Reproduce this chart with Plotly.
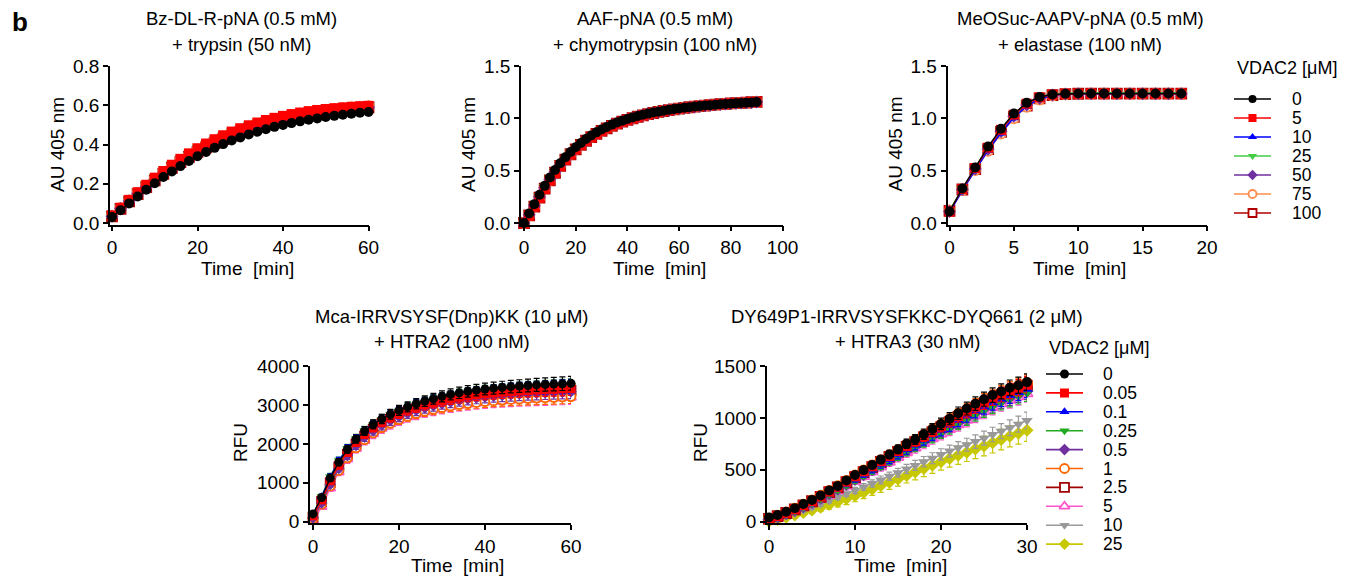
import plotly.graph_objects as go

FIG_W, FIG_H = 1353, 577
FONT = "Liberation Sans, Arial, Helvetica, sans-serif"

# ---------------- data ----------------
# VDAC2 concentrations [µM]
conc_a = ["0", "5", "10", "25", "50", "75", "100"]
conc_b = ["0", "0.05", "0.1", "0.25", "0.5", "1", "2.5", "5", "10", "25"]

# Bz-DL-R-pNA + trypsin (AU 405 nm)
t_tryp = [0, 2, 4, 6, 8, 10, 12, 14, 16, 18, 20, 22, 24, 26, 28, 30, 32, 34, 36, 38, 40,
          42, 44, 46, 48, 50, 52, 54, 56, 58, 60]
tryp_0 = [0.030, 0.065, 0.100, 0.135, 0.170, 0.203, 0.234, 0.263, 0.290, 0.316, 0.340, 0.362, 0.383, 0.402, 0.420,
          0.436, 0.451, 0.465, 0.478, 0.490, 0.500, 0.509, 0.518, 0.526, 0.533, 0.540, 0.546, 0.552, 0.557, 0.562, 0.566]
tryp_5 = [0.038, 0.078, 0.118, 0.157, 0.195, 0.231, 0.265, 0.297, 0.327, 0.355, 0.381, 0.405, 0.427, 0.447, 0.466,
          0.483, 0.498, 0.512, 0.525, 0.536, 0.546, 0.555, 0.563, 0.570, 0.576, 0.581, 0.585, 0.589, 0.592, 0.595, 0.597]
tryp_10 = [0.036, 0.075, 0.113, 0.151, 0.188, 0.223, 0.256, 0.288, 0.317, 0.345, 0.370, 0.394, 0.416, 0.436, 0.454,
           0.471, 0.487, 0.501, 0.514, 0.526, 0.536, 0.545, 0.554, 0.561, 0.568, 0.574, 0.579, 0.583, 0.587, 0.590, 0.593]
tryp_25 = [0.040, 0.081, 0.122, 0.162, 0.200, 0.236, 0.270, 0.302, 0.332, 0.360, 0.386, 0.410, 0.432, 0.452, 0.470,
           0.487, 0.502, 0.515, 0.527, 0.538, 0.548, 0.557, 0.565, 0.572, 0.578, 0.583, 0.587, 0.591, 0.594, 0.597, 0.599]
tryp_50 = [0.035, 0.074, 0.112, 0.149, 0.185, 0.220, 0.253, 0.284, 0.313, 0.340, 0.366, 0.389, 0.411, 0.431, 0.449,
           0.466, 0.482, 0.496, 0.509, 0.521, 0.531, 0.541, 0.550, 0.557, 0.564, 0.570, 0.575, 0.580, 0.584, 0.587, 0.590]
tryp_75 = [0.037, 0.076, 0.115, 0.153, 0.190, 0.226, 0.259, 0.291, 0.321, 0.348, 0.374, 0.398, 0.420, 0.440, 0.458,
           0.475, 0.491, 0.505, 0.518, 0.529, 0.540, 0.549, 0.557, 0.565, 0.571, 0.577, 0.582, 0.586, 0.590, 0.593, 0.595]
tryp_100 = [0.034, 0.072, 0.110, 0.147, 0.183, 0.217, 0.250, 0.281, 0.310, 0.337, 0.362, 0.385, 0.407, 0.427, 0.445,
            0.462, 0.478, 0.492, 0.505, 0.517, 0.528, 0.538, 0.547, 0.555, 0.562, 0.568, 0.573, 0.578, 0.582, 0.586, 0.589]
err_tryp = [0.004, 0.005, 0.006, 0.006, 0.007, 0.007, 0.008, 0.008, 0.009, 0.009, 0.010, 0.010, 0.010, 0.011, 0.011,
            0.011, 0.012, 0.012, 0.012, 0.012, 0.013, 0.013, 0.013, 0.013, 0.014, 0.014, 0.014, 0.014, 0.014, 0.015, 0.015]

# AAF-pNA + chymotrypsin (AU 405 nm)
t_chymo = [0, 2, 4, 6, 8, 10, 12, 14, 16, 18, 20, 22, 24, 26, 28, 30, 32, 34, 36, 38, 40, 42, 44,
           46, 48, 50, 52, 54, 56, 58, 60, 62, 64, 66, 68, 70, 72, 74, 76, 78, 80, 82, 84, 86, 88, 90]
chymo_0 = [0.00, 0.09, 0.18, 0.27, 0.355, 0.435, 0.506, 0.571, 0.628, 0.679, 0.724, 0.765, 0.802, 0.836, 0.866,
           0.893, 0.918, 0.94, 0.96, 0.978, 0.994, 1.009, 1.022, 1.034, 1.045, 1.055, 1.064, 1.073, 1.081, 1.088,
           1.095, 1.101, 1.107, 1.112, 1.117, 1.122, 1.126, 1.13, 1.134, 1.137, 1.14, 1.143, 1.146, 1.149, 1.152, 1.155]
chymo_5 = [0.00, 0.07, 0.155, 0.24, 0.325, 0.405, 0.477, 0.543, 0.602, 0.655, 0.702, 0.745, 0.784, 0.819, 0.851,
           0.879, 0.905, 0.928, 0.949, 0.968, 0.985, 1.001, 1.015, 1.028, 1.04, 1.051, 1.061, 1.07, 1.079, 1.087,
           1.094, 1.101, 1.107, 1.113, 1.118, 1.123, 1.128, 1.132, 1.136, 1.14, 1.143, 1.146, 1.149, 1.152, 1.155, 1.158]
chymo_10 = [0.00, 0.08, 0.168, 0.255, 0.34, 0.42, 0.492, 0.557, 0.615, 0.667, 0.713, 0.755, 0.793, 0.828, 0.859,
            0.886, 0.911, 0.934, 0.954, 0.973, 0.989, 1.005, 1.018, 1.031, 1.042, 1.053, 1.062, 1.071, 1.08, 1.087,
            1.094, 1.101, 1.107, 1.112, 1.117, 1.122, 1.127, 1.131, 1.135, 1.138, 1.141, 1.144, 1.147, 1.15, 1.153, 1.156]
chymo_25 = [0.00, 0.085, 0.175, 0.263, 0.348, 0.428, 0.5, 0.565, 0.623, 0.675, 0.721, 0.763, 0.8, 0.834, 0.865,
            0.892, 0.917, 0.939, 0.96, 0.978, 0.995, 1.01, 1.024, 1.036, 1.048, 1.058, 1.068, 1.077, 1.085, 1.093,
            1.1, 1.107, 1.113, 1.119, 1.124, 1.129, 1.134, 1.138, 1.142, 1.146, 1.149, 1.153, 1.156, 1.159, 1.162, 1.165]
chymo_50 = [0.00, 0.078, 0.165, 0.252, 0.337, 0.417, 0.489, 0.554, 0.612, 0.664, 0.71, 0.752, 0.79, 0.825, 0.856,
            0.884, 0.909, 0.931, 0.952, 0.97, 0.987, 1.003, 1.017, 1.029, 1.041, 1.051, 1.061, 1.07, 1.078, 1.086,
            1.093, 1.1, 1.106, 1.111, 1.116, 1.121, 1.126, 1.13, 1.134, 1.137, 1.141, 1.144, 1.147, 1.15, 1.152, 1.155]
chymo_75 = [0.00, 0.075, 0.16, 0.246, 0.331, 0.411, 0.483, 0.549, 0.607, 0.659, 0.706, 0.748, 0.787, 0.822, 0.853,
            0.881, 0.906, 0.929, 0.95, 0.969, 0.986, 1.002, 1.016, 1.029, 1.041, 1.052, 1.062, 1.071, 1.079, 1.087,
            1.094, 1.101, 1.107, 1.113, 1.118, 1.123, 1.127, 1.131, 1.135, 1.139, 1.142, 1.145, 1.148, 1.151, 1.154, 1.157]
chymo_100 = [0.00, 0.072, 0.157, 0.243, 0.328, 0.408, 0.48, 0.546, 0.605, 0.657, 0.704, 0.747, 0.786, 0.821, 0.852,
             0.88, 0.905, 0.928, 0.949, 0.968, 0.985, 1.001, 1.015, 1.028, 1.04, 1.051, 1.061, 1.07, 1.078, 1.086,
             1.093, 1.1, 1.106, 1.112, 1.117, 1.122, 1.127, 1.131, 1.135, 1.139, 1.142, 1.145, 1.148, 1.151, 1.154, 1.157]

# MeOSuc-AAPV-pNA + elastase (AU 405 nm)
t_elast = [0, 1, 2, 3, 4, 5, 6, 7, 8, 9, 10, 11, 12, 13, 14, 15, 16, 17, 18]
elast_0 = [0.11, 0.33, 0.53, 0.73, 0.90, 1.045, 1.148, 1.205, 1.228, 1.235, 1.237, 1.237, 1.237, 1.237, 1.237,
           1.237, 1.237, 1.237, 1.237]
elast_5 = [0.11, 0.325, 0.525, 0.72, 0.89, 1.035, 1.14, 1.2, 1.226, 1.234, 1.236, 1.236, 1.236, 1.236, 1.236,
           1.236, 1.236, 1.236, 1.236]
elast_10 = [0.10, 0.31, 0.505, 0.695, 0.86, 1.005, 1.115, 1.185, 1.22, 1.232, 1.235, 1.236, 1.236, 1.236, 1.236,
            1.236, 1.236, 1.236, 1.236]
elast_25 = [0.12, 0.33, 0.53, 0.725, 0.895, 1.04, 1.145, 1.205, 1.232, 1.242, 1.245, 1.246, 1.246, 1.246, 1.246,
            1.246, 1.246, 1.246, 1.246]
elast_50 = [0.11, 0.32, 0.515, 0.705, 0.875, 1.02, 1.128, 1.193, 1.224, 1.233, 1.236, 1.236, 1.236, 1.236, 1.236,
            1.236, 1.236, 1.236, 1.236]
elast_75 = [0.12, 0.315, 0.505, 0.69, 0.855, 1.0, 1.11, 1.18, 1.218, 1.23, 1.234, 1.235, 1.235, 1.235, 1.235,
            1.235, 1.235, 1.235, 1.235]
elast_100 = [0.115, 0.32, 0.515, 0.705, 0.87, 1.015, 1.122, 1.19, 1.222, 1.232, 1.235, 1.236, 1.236, 1.236, 1.236,
             1.236, 1.236, 1.236, 1.236]

# Mca-IRRVSYSF(Dnp)KK + HTRA2 (RFU)
t_htra2 = [0, 2, 4, 6, 8, 10, 12, 14, 16, 18, 20, 22, 24, 26, 28, 30, 32, 34, 36, 38, 40,
           42, 44, 46, 48, 50, 52, 54, 56, 58, 60]
htra2_0 = [200, 620, 1120, 1530, 1860, 2120, 2330, 2500, 2640, 2760, 2860, 2950, 3030, 3100, 3160,
           3220, 3270, 3310, 3350, 3380, 3410, 3430, 3450, 3470, 3485, 3500, 3515, 3525, 3535, 3545, 3555]
htra2_005 = [150, 560, 1050, 1450, 1780, 2040, 2250, 2420, 2560, 2680, 2780, 2865, 2940, 3005, 3060,
             3110, 3155, 3195, 3230, 3260, 3285, 3305, 3325, 3340, 3355, 3370, 3380, 3390, 3400, 3410, 3420]
htra2_01 = [180, 640, 1150, 1560, 1880, 2130, 2330, 2490, 2625, 2740, 2835, 2920, 2995, 3060, 3115,
            3165, 3210, 3250, 3285, 3315, 3340, 3360, 3380, 3400, 3415, 3430, 3440, 3450, 3460, 3470, 3480]
htra2_025 = [190, 650, 1160, 1570, 1890, 2140, 2340, 2500, 2635, 2750, 2845, 2930, 3005, 3070, 3125,
             3175, 3220, 3260, 3295, 3325, 3350, 3370, 3390, 3410, 3425, 3440, 3450, 3460, 3470, 3480, 3490]
htra2_05 = [100, 480, 960, 1370, 1700, 1960, 2170, 2340, 2480, 2600, 2700, 2785, 2860, 2925, 2980,
            3030, 3075, 3115, 3150, 3180, 3205, 3225, 3245, 3260, 3275, 3290, 3300, 3310, 3320, 3330, 3340]
htra2_1 = [80, 450, 920, 1320, 1640, 1900, 2110, 2280, 2420, 2535, 2630, 2710, 2780, 2840, 2890,
           2935, 2975, 3010, 3040, 3065, 3090, 3110, 3125, 3140, 3155, 3165, 3175, 3185, 3195, 3205, 3215]
htra2_25 = [120, 520, 1000, 1400, 1730, 1990, 2200, 2370, 2510, 2630, 2730, 2815, 2890, 2955, 3010,
            3060, 3105, 3145, 3180, 3210, 3235, 3255, 3275, 3290, 3305, 3320, 3330, 3340, 3350, 3360, 3370]
htra2_5 = [20, 380, 860, 1270, 1600, 1870, 2080, 2250, 2390, 2505, 2600, 2685, 2755, 2815, 2865,
           2910, 2950, 2985, 3015, 3040, 3065, 3085, 3100, 3115, 3130, 3140, 3150, 3160, 3170, 3180, 3190]
htra2_10 = [110, 500, 980, 1380, 1710, 1970, 2180, 2350, 2490, 2610, 2710, 2795, 2870, 2935, 2990,
            3040, 3085, 3125, 3160, 3190, 3215, 3235, 3255, 3270, 3285, 3300, 3310, 3320, 3330, 3340, 3350]
htra2_250 = [90, 470, 940, 1340, 1670, 1930, 2140, 2310, 2450, 2565, 2665, 2750, 2825, 2890, 2945,
             2990, 3030, 3065, 3095, 3120, 3145, 3165, 3185, 3200, 3215, 3225, 3235, 3245, 3255, 3265, 3275]
err_htra2 = [40, 60, 80, 90, 100, 105, 110, 115, 120, 125, 128, 130, 133, 135, 138,
             140, 142, 145, 148, 150, 152, 155, 158, 160, 162, 165, 168, 170, 172, 175, 178]

# DY649P1-IRRVSYSFKKC-DYQ661 + HTRA3 (RFU)
t_htra3 = [0, 1, 2, 3, 4, 5, 6, 7, 8, 9, 10, 11, 12, 13, 14, 15, 16, 17, 18, 19, 20,
           21, 22, 23, 24, 25, 26, 27, 28, 29, 30]
htra3_0 = [40, 65, 96, 130, 170, 210, 252, 300, 345, 398, 450, 497, 547, 598, 648,
           697, 750, 792, 843, 893, 942, 992, 1045, 1090, 1137, 1180, 1220, 1255, 1290, 1315, 1345]
htra3_005 = [30, 55, 85, 120, 160, 200, 243, 290, 336, 386, 437, 485, 533, 583, 632,
             680, 730, 775, 823, 872, 920, 968, 1018, 1063, 1108, 1150, 1190, 1225, 1260, 1290, 1320]
htra3_01 = [25, 48, 78, 110, 148, 188, 230, 273, 318, 365, 412, 458, 505, 553, 600,
            648, 695, 740, 787, 835, 882, 928, 975, 1020, 1065, 1105, 1145, 1180, 1215, 1245, 1275]
htra3_025 = [20, 45, 74, 106, 143, 182, 223, 266, 310, 356, 402, 448, 494, 540, 586,
             632, 678, 722, 767, 812, 857, 902, 947, 990, 1033, 1073, 1112, 1148, 1182, 1212, 1240]
htra3_05 = [22, 46, 76, 108, 145, 185, 226, 269, 314, 360, 407, 453, 500, 546, 592,
            638, 685, 730, 776, 822, 868, 913, 958, 1002, 1046, 1087, 1126, 1162, 1196, 1228, 1258]
htra3_1 = [30, 58, 90, 125, 165, 206, 250, 297, 343, 393, 445, 493, 542, 592, 642,
           690, 740, 786, 834, 883, 932, 980, 1030, 1076, 1122, 1165, 1206, 1242, 1276, 1305, 1335]
htra3_25 = [28, 54, 84, 118, 157, 197, 240, 285, 331, 380, 430, 478, 526, 575, 624,
            672, 721, 766, 813, 861, 909, 956, 1004, 1049, 1094, 1136, 1176, 1212, 1246, 1277, 1306]
htra3_5 = [15, 38, 66, 98, 134, 172, 212, 254, 298, 343, 389, 434, 480, 526, 572,
           618, 664, 708, 753, 798, 843, 888, 933, 976, 1019, 1060, 1100, 1136, 1170, 1202, 1232]
htra3_10 = [15, 35, 58, 84, 112, 142, 172, 205, 238, 270, 300, 335, 368, 402, 438,
            472, 508, 542, 578, 612, 648, 680, 712, 742, 772, 805, 840, 872, 905, 940, 975]
htra3_250 = [5, 22, 42, 64, 88, 113, 138, 165, 192, 220, 250, 282, 315, 348, 380,
             412, 445, 478, 512, 545, 578, 610, 640, 670, 700, 730, 760, 792, 822, 852, 882]
err_htra3 = [10, 12, 14, 16, 18, 20, 22, 24, 26, 28, 30, 32, 35, 38, 40,
             42, 45, 48, 50, 52, 55, 58, 60, 62, 65, 68, 70, 72, 75, 78, 80]
err_htra3_250 = [10, 15, 20, 25, 30, 35, 40, 45, 50, 55, 58, 60, 62, 65, 68,
                 70, 72, 75, 78, 80, 82, 85, 88, 90, 92, 95, 98, 100, 102, 105, 108]

# ---------------- styles ----------------
# (colour, symbol, filled) per concentration
style_a = [("#000000", "circle", True), ("#ff0000", "square", True), ("#0000ff", "triangle-up", True),
           ("#44cc44", "triangle-down", True), ("#7030a0", "diamond", True), ("#ff8c4a", "circle", False),
           ("#b00000", "square", False)]
style_b = [("#000000", "circle", True), ("#ff0000", "square", True), ("#0000ff", "triangle-up", True),
           ("#22aa22", "triangle-down", True), ("#7030a0", "diamond", True), ("#ff6600", "circle", False),
           ("#a00000", "square", False), ("#ff55cc", "triangle-up", False), ("#999999", "triangle-down", True),
           ("#c8c800", "diamond", True)]


def fx(p):
    return p / FIG_W


def fy(p):
    return 1 - p / FIG_H


panels = [
    dict(t=t_tryp, ys=[tryp_0, tryp_5, tryp_10, tryp_25, tryp_50, tryp_75, tryp_100],
         errs=[err_tryp] * 7, style=style_a, ms=10,
         xdom=(110, 368.5), ydom=(66, 224.5), xr=[-0.47, 60], yr=[-0.0076, 0.8],
         xt=[0, 20, 40, 60], yt=[0, 0.2, 0.4, 0.6, 0.8], yfmt=".1f"),
    dict(t=t_chymo, ys=[chymo_0, chymo_5, chymo_10, chymo_25, chymo_50, chymo_75, chymo_100],
         errs=[None] * 7, style=style_a, ms=10,
         xdom=(521, 782.5), ydom=(66, 224.5), xr=[-1.16, 100], yr=[-0.0143, 1.5],
         xt=[0, 20, 40, 60, 80, 100], yt=[0, 0.5, 1.0, 1.5], yfmt=".1f"),
    dict(t=t_elast, ys=[elast_0, elast_5, elast_10, elast_25, elast_50, elast_75, elast_100],
         errs=[None] * 7, style=style_a, ms=10,
         xdom=(947.5, 1207), ydom=(66, 224.5), xr=[-0.155, 20], yr=[-0.0143, 1.5],
         xt=[0, 5, 10, 15, 20], yt=[0, 0.5, 1.0, 1.5], yfmt=".1f"),
    dict(t=t_htra2, ys=[htra2_0, htra2_005, htra2_01, htra2_025, htra2_05, htra2_1, htra2_25, htra2_5,
                        htra2_10, htra2_250],
         errs=[err_htra2] * 10, style=style_b, ms=9,
         xdom=(310, 571), ydom=(366, 523.2), xr=[-0.7, 60], yr=[-38.5, 4000],
         xt=[0, 20, 40, 60], yt=[0, 1000, 2000, 3000, 4000], yfmt="d"),
    dict(t=t_htra3, ys=[htra3_0, htra3_005, htra3_01, htra3_025, htra3_05, htra3_1, htra3_25, htra3_5,
                        htra3_10, htra3_250],
         errs=[err_htra3] * 9 + [err_htra3_250], style=style_b, ms=10,
         xdom=(767, 1027), ydom=(366, 523.2), xr=[-0.233, 30], yr=[-14.5, 1500],
         xt=[0, 10, 20, 30], yt=[0, 500, 1000, 1500], yfmt="d"),
]

fig = go.Figure()
layout_axes = {}

axis_common = dict(showline=True, linecolor="black", linewidth=1.8, ticks="outside", ticklen=5,
                   tickwidth=1.8, tickcolor="black", showgrid=False, zeroline=False, automargin=False,
                   tickfont=dict(family=FONT, size=19, color="black"), fixedrange=True)

for k, p in enumerate(panels, start=1):
    sfx = "" if k == 1 else str(k)
    xa, ya = "x" + sfx, "y" + sfx
    layout_axes["xaxis" + sfx] = dict(axis_common, domain=[fx(p["xdom"][0]), fx(p["xdom"][1])],
                                      range=p["xr"], tickvals=p["xt"], anchor=ya)
    layout_axes["yaxis" + sfx] = dict(axis_common, domain=[fy(p["ydom"][1]), fy(p["ydom"][0])],
                                      range=p["yr"], tickvals=p["yt"], tickformat=p["yfmt"], anchor=xa)
    # lowest concentration drawn last so it sits on top
    for i in reversed(range(len(p["ys"]))):
        col, sym, filled = p["style"][i]
        err = p["errs"][i]
        fig.add_trace(go.Scatter(
            x=p["t"], y=p["ys"][i], xaxis=xa, yaxis=ya, mode="lines+markers",
            line=dict(color=col, width=1.4),
            marker=dict(symbol=sym, size=p["ms"], color=col if filled else "white",
                        line=dict(color=col, width=0 if filled else 1.8)),
            error_y=dict(type="data", array=err, color=col, thickness=1.2, width=3,
                         visible=err is not None),
            cliponaxis=False, showlegend=False, hoverinfo="skip"))

# legend key panels drawn on their own hidden axes
legends = [
    dict(labels=conc_a, style=style_a, n=6, ms=8, xdom=(1234, 1352), xr=[0, 118 / 37],
         ydom=(99 - 2.5 * 19, 99 + 6.5 * 19), yr=[6.5, -2.5], text_x=1.52, title_y=-1.63),
    dict(labels=conc_b, style=style_b, n=7, ms=9, xdom=(1040, 1160), xr=[-6 / 37, 114 / 37],
         ydom=(374 - 2.5 * 18.9, 374 + 9.5 * 18.9), yr=[9.5, -2.5], text_x=1.49, title_y=-1.38),
]

annotations = []
for lg in legends:
    n = lg["n"]
    layout_axes["xaxis%d" % n] = dict(domain=[fx(lg["xdom"][0]), fx(lg["xdom"][1])], range=lg["xr"],
                                      visible=False, anchor="y%d" % n, fixedrange=True)
    layout_axes["yaxis%d" % n] = dict(domain=[fy(lg["ydom"][1]), fy(lg["ydom"][0])], range=lg["yr"],
                                      visible=False, anchor="x%d" % n, fixedrange=True)
    for i, lab in enumerate(lg["labels"]):
        col, sym, filled = lg["style"][i]
        fig.add_trace(go.Scatter(x=[0, 1], y=[i, i], xaxis="x%d" % n, yaxis="y%d" % n, mode="lines",
                                 line=dict(color=col, width=1.6), showlegend=False, hoverinfo="skip"))
        fig.add_trace(go.Scatter(x=[0.5], y=[i], xaxis="x%d" % n, yaxis="y%d" % n, mode="markers",
                                 marker=dict(symbol=sym, size=lg["ms"], color=col if filled else "white",
                                             line=dict(color=col, width=0 if filled else 1.8)),
                                 showlegend=False, hoverinfo="skip"))
        annotations.append(dict(xref="x%d" % n, yref="y%d" % n, x=lg["text_x"], y=i, text=lab,
                                xanchor="left", yanchor="middle", showarrow=False,
                                font=dict(family=FONT, size=17.5, color="black")))
    annotations.append(dict(xref="x%d" % n, yref="y%d" % n, x=0.03, y=lg["title_y"], text="VDAC2 [μM]",
                            xanchor="left", yanchor="middle", showarrow=False,
                            font=dict(family=FONT, size=18, color="black")))


def paper_text(text, x, y, size, angle=0, bold=False):
    annotations.append(dict(xref="paper", yref="paper", x=fx(x), y=fy(y), text=("<b>%s</b>" % text) if bold else text,
                            xanchor="center", yanchor="middle", showarrow=False, textangle=angle,
                            font=dict(family=FONT, size=size, color="black")))


# panel titles
titles = [
    ("Bz-DL-R-pNA (0.5 mM)", "+ trypsin (50 nM)", 241, 19, 44),
    ("AAF-pNA (0.5 mM)", "+ chymotrypsin (100 nM)", 655, 19, 44),
    ("MeOSuc-AAPV-pNA (0.5 mM)", "+ elastase (100 nM)", 1080, 19, 44),
    ("Mca-IRRVSYSF(Dnp)KK (10 μM)", "+ HTRA2 (100 nM)", 452, 316, 341),
    ("DY649P1-IRRVSYSFKKC-DYQ661 (2 μM)", "+ HTRA3 (30 nM)", 907, 316, 341),
]
for l1, l2, cx, y1, y2 in titles:
    paper_text(l1, cx, y1, 18.5)
    paper_text(l2, cx, y2, 18.5)

# axis titles
for cx, cy, txt in [(57.5, 144.5, "AU 405 nm"), (468.5, 144.5, "AU 405 nm"), (895, 144.5, "AU 405 nm"),
                    (240, 443, "RFU"), (700, 443, "RFU")]:
    paper_text(txt, cx, cy, 19, angle=-90)
for cx, cy in [(247, 268), (659, 268), (1079, 268), (457, 565), (900, 565)]:
    paper_text("Time\u00a0 [min]", cx, cy, 19)

paper_text("b", 19.5, 22, 26, bold=True)

fig.update_layout(width=FIG_W, height=FIG_H,
                  margin=dict(l=0, r=0, t=0, b=0, pad=0, autoexpand=False),
                  paper_bgcolor="white", plot_bgcolor="white", showlegend=False,
                  annotations=annotations, font=dict(family=FONT, color="black"), **layout_axes)

fig.write_html("out.html")
